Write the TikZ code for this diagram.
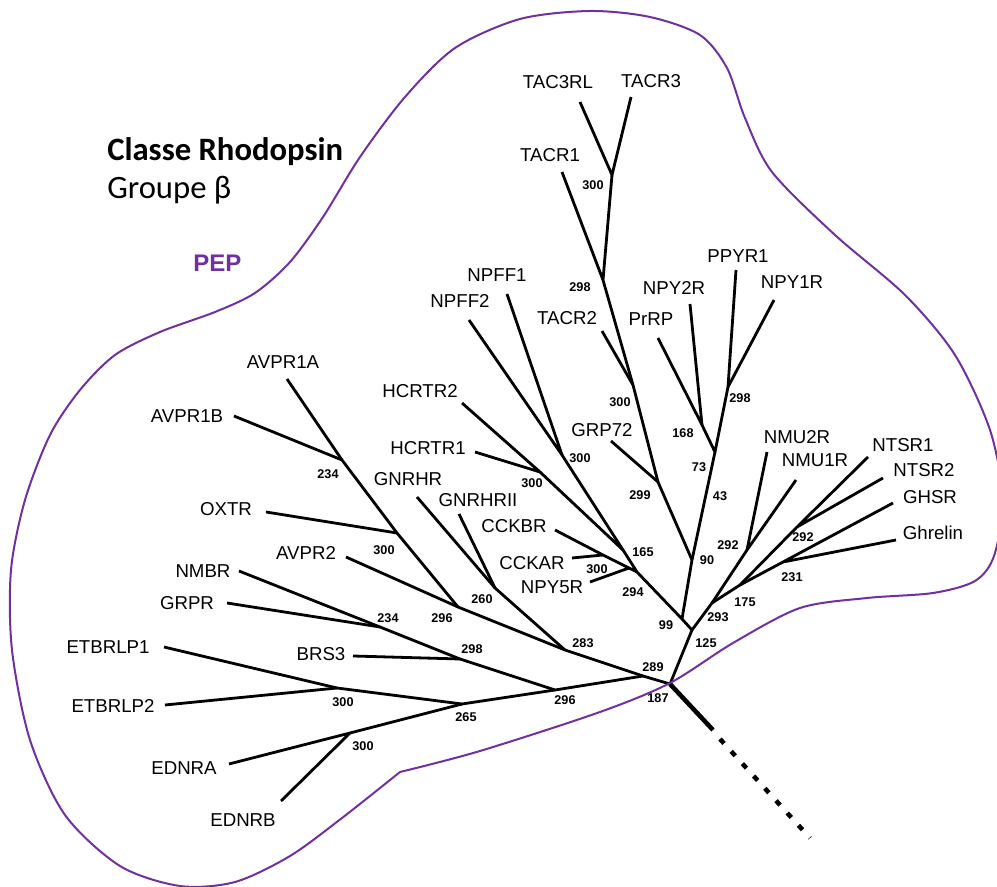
\documentclass[tikz,border=0pt]{standalone}
\usepackage{fontspec}
\setmainfont{Liberation Sans}
\newfontfamily\titlefont{Carlito}
\usepackage{tikz}
\usetikzlibrary
  {
    calc,
  }
\definecolor{peppurple}{HTML}{7030A0}

\begin{document}
\begin{tikzpicture}
    [
      x=0.75pt,
      y=-0.75pt,
      branch/.style=
        {
          line width=2.1pt,
          line join=round,
        },
      outline/.style=
        {
          draw=peppurple,
          line width=1.5pt,
        },
      leaf/.style=
        {
          font=\fontsize{14}{16}\selectfont,
          inner sep=0pt,
        },
      boot/.style=
        {
          font=\bfseries\fontsize{9.5}{11}\selectfont,
          inner sep=0pt,
        },
      heading/.style=
        {
          font=\titlefont\fontsize{24.5}{28}\selectfont,
          anchor=base west,
          inner sep=0pt,
        },
    ]
    \clip (0,0) rectangle (997,887);

    % titles
    \node[heading, font=\titlefont\bfseries\fontsize{24.5}{28}\selectfont]
                        (classe)  at (107,161) {Classe Rhodopsin};
    \node[heading]      (groupe)  at (107,199) {Groupe β};
    \node[anchor=base west, inner sep=0pt, text=peppurple,
          font=\bfseries\fontsize{18}{20}\selectfont]
                        (pep)     at (193,272) {PEP};

    % leaf names
    \node[leaf] (tac3rl)  at (558, 82) {TAC3RL};
    \node[leaf] (tacr3)   at (651, 81) {TACR3};
    \node[leaf] (tacr1)   at (550,155) {TACR1};
    \node[leaf] (tacr2)   at (567,318) {TACR2};
    \node[leaf] (grp72)   at (602,430) {GRP72};
    \node[leaf] (prrp)    at (651,319) {PrRP};
    \node[leaf] (npy2r)   at (674,288) {NPY2R};
    \node[leaf] (ppyr1)   at (738,256) {PPYR1};
    \node[leaf] (npy1r)   at (792,282) {NPY1R};
    \node[leaf] (npff1)   at (497,275) {NPFF1};
    \node[leaf] (npff2)   at (460,301) {NPFF2};
    \node[leaf] (hcrtr2)  at (420,391) {HCRTR2};
    \node[leaf] (hcrtr1)  at (428,448) {HCRTR1};
    \node[leaf] (cckbr)   at (514,526) {CCKBR};
    \node[leaf] (cckar)   at (532,563) {CCKAR};
    \node[leaf] (npy5r)   at (552,587) {NPY5R};
    \node[leaf] (nmu2r)   at (797,437) {NMU2R};
    \node[leaf] (nmu1r)   at (815,460) {NMU1R};
    \node[leaf] (ntsr1)   at (903,445) {NTSR1};
    \node[leaf] (ntsr2)   at (924,470) {NTSR2};
    \node[leaf] (ghsr)    at (930,497) {GHSR};
    \node[leaf] (ghrelin) at (933,533) {Ghrelin};
    \node[leaf] (avpr1a)  at (283,362) {AVPR1A};
    \node[leaf] (avpr1b)  at (187,416) {AVPR1B};
    \node[leaf] (oxtr)    at (226,509) {OXTR};
    \node[leaf] (avpr2)   at (306,553) {AVPR2};
    \node[leaf] (gnrhr)   at (408,479) {GNRHR};
    \node[leaf] (gnrhr2)  at (478,500) {GNRHRII};
    \node[leaf] (nmbr)    at (203,571) {NMBR};
    \node[leaf] (grpr)    at (187,603) {GRPR};
    \node[leaf] (brs3)    at (321,654) {BRS3};
    \node[leaf] (etbrlp1) at (108,647) {ETBRLP1};
    \node[leaf] (etbrlp2) at (113,706) {ETBRLP2};
    \node[leaf] (ednra)   at (184,768) {EDNRA};
    \node[leaf] (ednrb)   at (243,820) {EDNRB};

    % branch tips
    \coordinate (tac3rl tip)  at (580,102);
    \coordinate (tacr3 tip)   at (631, 97);
    \coordinate (tacr1 tip)   at (562,172);
    \coordinate (tacr2 tip)   at (602,331);
    \coordinate (grp72 tip)   at (611,441);
    \coordinate (prrp tip)    at (658,338);
    \coordinate (npy2r tip)   at (690,304);
    \coordinate (ppyr1 tip)   at (736,270);
    \coordinate (npy1r tip)   at (774,300);
    \coordinate (npff1 tip)   at (507,294);
    \coordinate (npff2 tip)   at (469,320);
    \coordinate (hcrtr2 tip)  at (462,403);
    \coordinate (hcrtr1 tip)  at (475,452);
    \coordinate (cckbr tip)   at (555,530);
    \coordinate (cckar tip)   at (572,558);
    \coordinate (npy5r tip)   at (590,582);
    \coordinate (nmu2r tip)   at (767,452);
    \coordinate (nmu1r tip)   at (796,480);
    \coordinate (ntsr1 tip)   at (868,457);
    \coordinate (ntsr2 tip)   at (883,478);
    \coordinate (ghsr tip)    at (893,503);
    \coordinate (ghrelin tip) at (896,540);
    \coordinate (avpr1a tip)  at (287,379);
    \coordinate (avpr1b tip)  at (234,416);
    \coordinate (oxtr tip)    at (266,512);
    \coordinate (avpr2 tip)   at (346,557);
    \coordinate (gnrhr tip)   at (417,497);
    \coordinate (gnrhr2 tip)  at (459,514);
    \coordinate (nmbr tip)    at (239,571);
    \coordinate (grpr tip)    at (227,603);
    \coordinate (brs3 tip)    at (353,656);
    \coordinate (etbrlp1 tip) at (164,647);
    \coordinate (etbrlp2 tip) at (165,705);
    \coordinate (ednra tip)   at (229,764);
    \coordinate (ednrb tip)   at (281,801);

    % inner nodes
    \coordinate (root)      at (670,684);
    \coordinate (j tac3)    at (612,175);
    \coordinate (j tac1)    at (603,280);
    \coordinate (j tac2)    at (633,385);
    \coordinate (j grp72)   at (658,482);
    \coordinate (j 90)      at (692,560);
    \coordinate (j prrp)    at (702,425);
    \coordinate (j npy1)    at (728,387);
    \coordinate (j npy)     at (715,452);
    \coordinate (j npff)    at (562,455);
    \coordinate (j hcrtr)   at (540,472);
    \coordinate (j hn)      at (623,550);
    \coordinate (j cck)     at (603,555);
    \coordinate (j npy5)    at (629,568);
    \coordinate (j 165)     at (637,572);
    \coordinate (j 99)      at (682,619);
    \coordinate (j 125)     at (692,630);
    \coordinate (j 293)     at (712,603);
    \coordinate (j nmu)     at (747,550);
    \coordinate (j 175)     at (740,585);
    \coordinate (j ntsr)    at (797,527);
    \coordinate (j ghsr)    at (783,562);
    \coordinate (j 289)     at (643,676);
    \coordinate (j 283)     at (565,650);
    \coordinate (j avpr1)   at (342,460);
    \coordinate (j oxtr)    at (397,533);
    \coordinate (j avpr)    at (458,607);
    \coordinate (j gnrh)    at (495,588);
    \coordinate (j 296)     at (555,690);
    \coordinate (j grpr)    at (380,627);
    \coordinate (j brs3)    at (460,659);
    \coordinate (j 265)     at (462,704);
    \coordinate (j etbrlp)  at (337,688);
    \coordinate (j ednr)    at (350,733);
    \coordinate (stub end)  at (713,730);
    \coordinate (dots start) at (720,739);
    \coordinate (outgroup)  at (810,838);

    % branches
    \draw[branch] (tac3rl tip) -- (j tac3) -- (tacr3 tip);
    \draw[branch] (j tac3) -- (j tac1) -- (j tac2) -- (j grp72) -- (j 90);
    \draw[branch] (tacr1 tip) -- (j tac1);
    \draw[branch] (tacr2 tip) -- (j tac2);
    \draw[branch] (grp72 tip) -- (j grp72);
    \draw[branch] (prrp tip) -- (j prrp) -- (npy2r tip);
    \draw[branch] (ppyr1 tip) -- (j npy1) -- (npy1r tip);
    \draw[branch] (j prrp) -- (j npy) -- (j npy1);
    \draw[branch] (j npy) -- (j 90) -- (j 99);
    \draw[branch] (npff2 tip) -- (j npff) -- (npff1 tip);
    \draw[branch] (hcrtr2 tip) -- (j hcrtr) -- (hcrtr1 tip);
    \draw[branch] (j npff) -- (j hn) -- (j hcrtr);
    \draw[branch] (cckbr tip) -- (j cck) -- (cckar tip);
    \draw[branch] (j cck) -- (j npy5) -- (npy5r tip);
    \draw[branch] (j hn) -- (j 165) -- (j npy5);
    \draw[branch] (j 165) -- (j 99) -- (j 125) -- (root);
    \draw[branch] (j 125) -- (j 293) -- (j nmu);
    \draw[branch] (nmu2r tip) -- (j nmu) -- (nmu1r tip);
    \draw[branch] (j 293) -- (j 175) -- (j ntsr);
    \draw[branch] (ntsr1 tip) -- (j ntsr) -- (ntsr2 tip);
    \draw[branch] (j 175) -- (j ghsr);
    \draw[branch] (ghsr tip) -- (j ghsr) -- (ghrelin tip);
    \draw[branch] (root) -- (j 289) -- (j 283);
    \draw[branch] (j 283) -- (j avpr) -- (j oxtr) -- (j avpr1) -- (avpr1a tip);
    \draw[branch] (avpr1b tip) -- (j avpr1);
    \draw[branch] (oxtr tip) -- (j oxtr);
    \draw[branch] (avpr2 tip) -- (j avpr);
    \draw[branch] (j 283) -- (j gnrh) -- (gnrhr tip);
    \draw[branch] (gnrhr2 tip) -- (j gnrh);
    \draw[branch] (j 289) -- (j 296) -- (j brs3) -- (j grpr) -- (nmbr tip);
    \draw[branch] (grpr tip) -- (j grpr);
    \draw[branch] (brs3 tip) -- (j brs3);
    \draw[branch] (j 296) -- (j 265) -- (j etbrlp) -- (etbrlp1 tip);
    \draw[branch] (etbrlp2 tip) -- (j etbrlp);
    \draw[branch] (j 265) -- (j ednr) -- (ednra tip);
    \draw[branch] (ednrb tip) -- (j ednr);
    \draw[line width=3.4pt] (root) -- (stub end);
    \draw[line width=3.4pt, dash pattern=on 4.5pt off 8pt] (dots start) -- (outgroup);

    % bootstrap values
    \node[boot] (b tac3)   at (593,185) {300};
    \node[boot] (b tac1)   at (580,287) {298};
    \node[boot] (b tac2)   at (620,402) {300};
    \node[boot] (b grp72)  at (640,495) {299};
    \node[boot] (b 90)     at (707,560) {90};
    \node[boot] (b prrp)   at (683,433) {168};
    \node[boot] (b npy)    at (699,467) {73};
    \node[boot] (b 43)     at (720,496) {43};
    \node[boot] (b npy1)   at (740,398) {298};
    \node[boot] (b npff)   at (580,458) {300};
    \node[boot] (b hcrtr)  at (532,483) {300};
    \node[boot] (b 165)    at (643,552) {165};
    \node[boot] (b cck)    at (597,569) {300};
    \node[boot] (b npy5)   at (633,592) {294};
    \node[boot] (b 99)     at (666,625) {99};
    \node[boot] (b 125)    at (706,643) {125};
    \node[boot] (b 289)    at (653,667) {289};
    \node[boot] (b 187)    at (658,698) {187};
    \node[boot] (b nmu)    at (728,545) {292};
    \node[boot] (b 293)    at (718,617) {293};
    \node[boot] (b 175)    at (745,602) {175};
    \node[boot] (b ntsr)   at (803,537) {292};
    \node[boot] (b ghsr)   at (792,577) {231};
    \node[boot] (b 283)    at (583,643) {283};
    \node[boot] (b gnrh)   at (482,599) {260};
    \node[boot] (b avpr)   at (442,618) {296};
    \node[boot] (b avpr1)  at (328,474) {234};
    \node[boot] (b oxtr)   at (384,550) {300};
    \node[boot] (b grpr)   at (388,618) {234};
    \node[boot] (b brs3)   at (472,649) {298};
    \node[boot] (b 296)    at (565,700) {296};
    \node[boot] (b 265)    at (466,717) {265};
    \node[boot] (b etbrlp) at (343,702) {300};
    \node[boot] (b ednr)   at (363,746) {300};

    % PEP outline
    \draw[outline] plot[smooth] coordinates
      {
        (400,772) (480,751) (600,712) (670,683) (733,643) (800,608)
        (867,598) (933,593) (975,581) (994,556) (1003,500) (990,430)
        (955,355) (905,295) (835,235) (772,172) (745,118) (727,68)
        (700,35) (650,17) (590,11) (520,19) (455,48) (405,97)
        (360,157) (323,217) (290,262) (255,293) (215,312) (160,332)
        (115,355) (80,390) (50,435) (25,500) (11,570) (12,650)
        (30,740) (65,815) (120,866) (180,886) (235,882) (290,856)
        (342,818) (400,772)
      };
\end{tikzpicture}
\end{document}
